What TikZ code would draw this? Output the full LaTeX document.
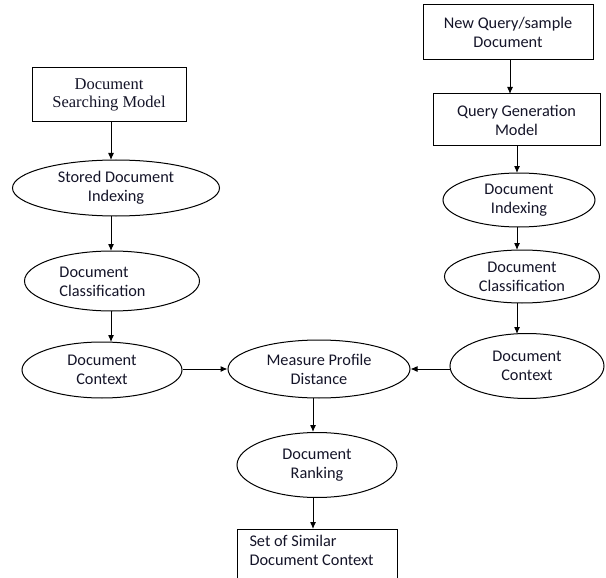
\documentclass[tikz,border=0pt]{standalone}
\usepackage{fontspec}
\setmainfont{Carlito}
\newfontfamily\timesfont{Liberation Serif}
\usetikzlibrary{shapes.geometric,arrows.meta}
\definecolor{txt}{RGB}{20,20,40}
\begin{document}
\begin{tikzpicture}[x=1pt,y=-1pt,
  every node/.style={font=\fontsize{16.3}{19}\selectfont, text=txt, inner sep=0pt, line width=1pt},
  ell/.style={draw, ellipse, align=center},
  boxx/.style={draw, rectangle, align=center},
  arr/.style={-{Latex[length=7pt,width=6pt]}, line width=1pt}]
\useasboundingbox (0,0) rectangle (606,578);
\clip (0,0) rectangle (606,578);
% left column
\node[boxx, minimum width=154, minimum height=54, font=\timesfont\fontsize{16.5}{17.5}\selectfont] (b1) at (109,95) {Document\\Searching Model};
\node[ell, minimum width=207, minimum height=56] (l1) at (116,188) {Stored Document\\Indexing};
\node[ell, minimum width=175, minimum height=60] (l2) at (112,281) {};
\node[align=left, anchor=west] (l2t) at (59,282) {Document\\Classification};
\node[ell, minimum width=160, minimum height=56] (l3) at (102,370) {Document\\Context};
% center
\node[ell, minimum width=182, minimum height=58] (m) at (319,369) {Measure Profile\\Distance};
\node[ell, minimum width=160, minimum height=65] (r) at (317,465) {Document\\Ranking};
\node[draw, rectangle, minimum width=160, minimum height=62, anchor=north] (s) at (317,529) {};
\node[align=left, anchor=north west] (st) at (249,535) {Set of Similar\\Document Context};
% right column
\node[boxx, minimum width=170, minimum height=55] (q1) at (508,32.5) {New Query/sample\\Document};
\node[boxx, minimum width=167, minimum height=52] (q2) at (516.5,120) {Query Generation\\Model};
\node[ell, minimum width=152, minimum height=54] (r1) at (519,200) {Document\\Indexing};
\node[ell, minimum width=155, minimum height=53] (r2) at (522,276.5) {Document\\Classification};
\node[ell, minimum width=154, minimum height=65] (r3) at (527,366) {Document\\Context};
% coordinates for vertical arrows
\coordinate (a1) at (111,122); \coordinate (a1e) at (111,160);
\coordinate (a2) at (111,216); \coordinate (a2e) at (111,251);
\coordinate (a3) at (111,311); \coordinate (a3e) at (111,342);
\coordinate (c1) at (510,60); \coordinate (c1e) at (510,94);
\coordinate (c2) at (517,146); \coordinate (c2e) at (517,173);
\coordinate (c3) at (517,227); \coordinate (c3e) at (517,250);
\coordinate (c4) at (517,303); \coordinate (c4e) at (517,334);
\coordinate (m1) at (313,398); \coordinate (m1e) at (313,432);
\coordinate (m2) at (313,497); \coordinate (m2e) at (313,529);
\draw[arr] (a1) -- (a1e);
\draw[arr] (a2) -- (a2e);
\draw[arr] (a3) -- (a3e);
\draw[arr] (c1) -- (c1e);
\draw[arr] (c2) -- (c2e);
\draw[arr] (c3) -- (c3e);
\draw[arr] (c4) -- (c4e);
\draw[arr] (m1) -- (m1e);
\draw[arr] (m2) -- (m2e);
\draw[arr] (l3.east |- m.west) -- (m.west);
\draw[arr] (r3.west |- m.east) -- (m.east);
\end{tikzpicture}
\end{document}
